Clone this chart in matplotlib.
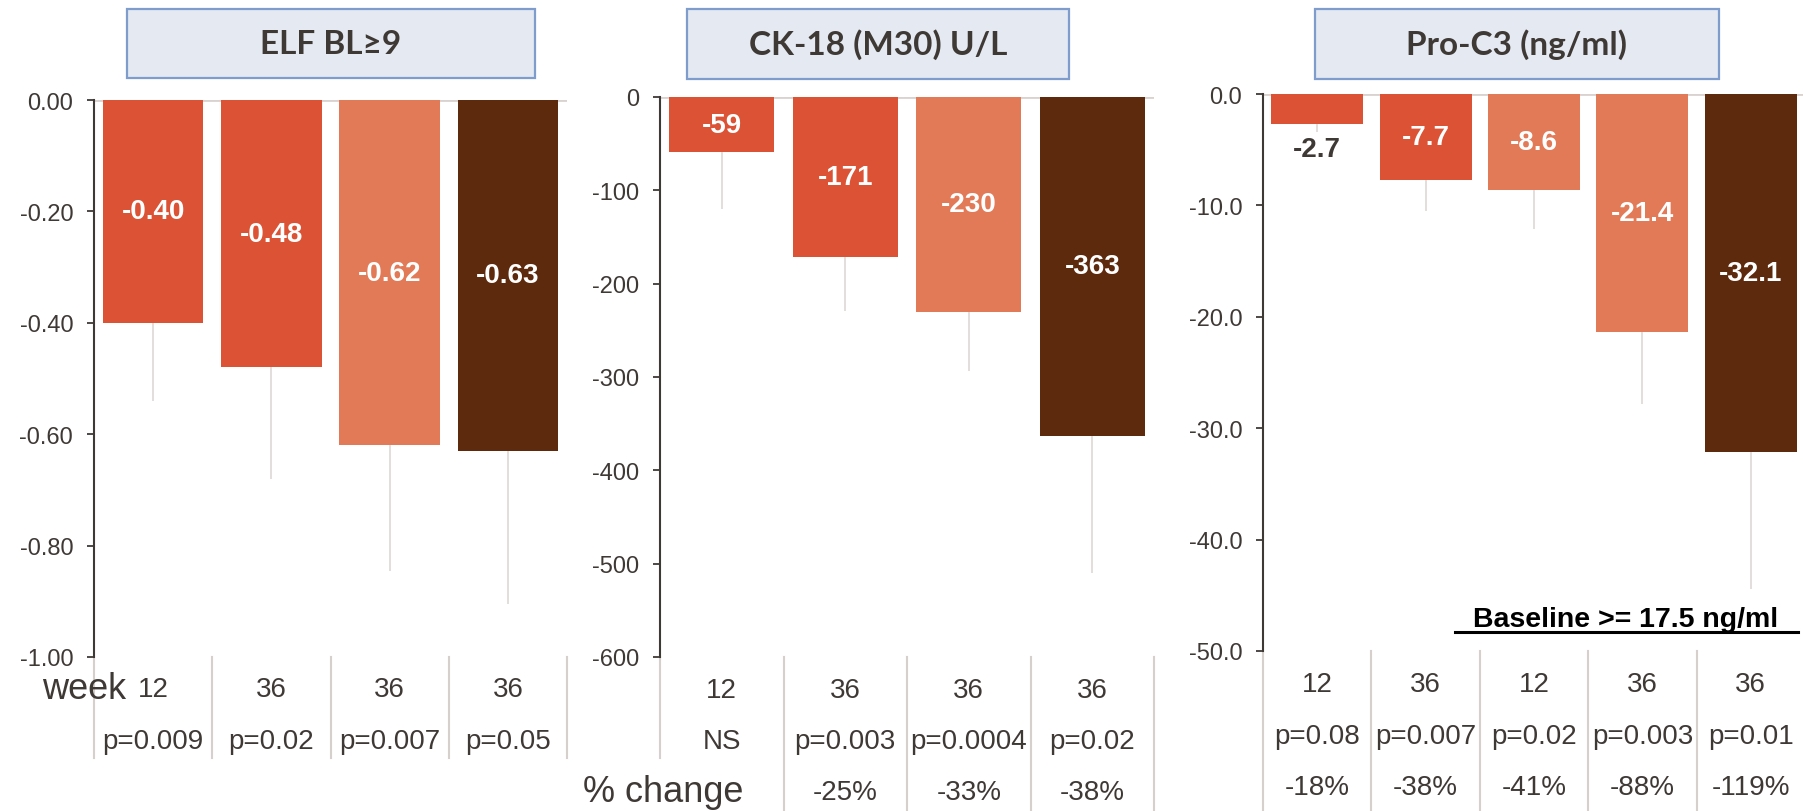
import matplotlib
matplotlib.use('Agg')
import matplotlib.pyplot as plt
import matplotlib.transforms as mtransforms
from matplotlib.patches import Rectangle
from matplotlib.lines import Line2D
from matplotlib.ticker import FormatStrFormatter

plt.rcParams.update({
    'font.family': ['Liberation Sans', 'DejaVu Sans'],
    'axes.linewidth': 1.5,
})

W, H = 1803, 812
TXT = '#3F3936'
SEP = '#D6CFCC'
RED = '#DB5234'
SALMON = '#E27A57'
BROWN = '#5E2A0E'

# -- ELF (baseline >= 9) --
elf_title = 'ELF BL≥9'
elf_vals = [-0.40, -0.48, -0.62, -0.63]
elf_err = [0.14, 0.20, 0.225, 0.275]
elf_weeks = ['12', '36', '36', '36']
elf_p = ['p=0.009', 'p=0.02', 'p=0.007', 'p=0.05']
elf_colors = [RED, RED, SALMON, BROWN]
elf_labels = ['-0.40', '-0.48', '-0.62', '-0.63']

# -- CK-18 (M30) --
ck_title = 'CK-18 (M30) U/L'
ck_vals = [-59, -171, -230, -363]
ck_err = [61, 58, 64, 147]
ck_weeks = ['12', '36', '36', '36']
ck_p = ['NS', 'p=0.003', 'p=0.0004', 'p=0.02']
ck_pct = ['', '-25%', '-33%', '-38%']
ck_colors = [RED, RED, SALMON, BROWN]
ck_labels = ['-59', '-171', '-230', '-363']

# -- Pro-C3 --
pro_title = 'Pro-C3 (ng/ml)'
pro_vals = [-2.7, -7.7, -8.6, -21.4, -32.1]
pro_err = [0.7, 2.8, 3.5, 6.4, 12.3]
pro_weeks = ['12', '36', '12', '36', '36']
pro_p = ['p=0.08', 'p=0.007', 'p=0.02', 'p=0.003', 'p=0.01']
pro_pct = ['-18%', '-38%', '-41%', '-88%', '-119%']
pro_colors = [RED, RED, SALMON, SALMON, BROWN]
pro_labels = ['-2.7', '-7.7', '-8.6', '-21.4', '-32.1']


def fx(px):
    return px / W


def fy(py):
    return 1 - py / H


fig = plt.figure(figsize=(W / 100, H / 100), dpi=100)


def panel(box, title, title_box, vals, err, colors, labels, ylim, yticks, fmt,
          rows, row_y, sep_bottom):
    x0, y0, x1, y1 = box
    ax = fig.add_axes([fx(x0), fy(y1), fx(x1 - x0), (y1 - y0) / H])
    n = len(vals)
    xs = list(range(n))
    ax.axhline(0, color='#D9D2CF', lw=2, zorder=1)
    ax.bar(xs, vals, width=0.85, color=colors, zorder=2)
    # lower error whiskers only
    ax.vlines(xs, vals, [v - e for v, e in zip(vals, err)],
              color='#E0DBD9', lw=1.3, zorder=1)
    ax.set_xlim(-0.5, n - 0.5)
    ax.set_ylim(*ylim)
    ax.set_yticks(yticks)
    ax.yaxis.set_major_formatter(FormatStrFormatter(fmt))
    ax.set_xticks([])
    for s in ['top', 'right', 'bottom']:
        ax.spines[s].set_visible(False)
    ax.spines['left'].set_color(TXT)
    ax.tick_params(axis='y', labelsize=17, labelcolor=TXT, color=TXT,
                   length=5, width=1.3, pad=10)

    # value labels: inside the bar, or under it when the bar is too short
    span = ylim[1] - ylim[0]
    for x, v, lab in zip(xs, vals, labels):
        if abs(v) / span < 0.08:
            ax.text(x, v - span * 0.045, lab, ha='center', va='center',
                    fontsize=20, fontweight='bold', color=TXT)
        else:
            ax.text(x, v / 2, lab, ha='center', va='center',
                    fontsize=20, fontweight='bold', color='white')

    # header box
    bx0, by0, bx1, by1 = title_box
    fig.patches.append(Rectangle((fx(bx0), fy(by1)), fx(bx1 - bx0), (by1 - by0) / H,
                                 transform=fig.transFigure, facecolor='#E4E9F2',
                                 edgecolor='#7F9DCC', lw=1.6))
    fig.text(fx((bx0 + bx1) / 2), fy((by0 + by1) / 2), title, ha='center',
             va='center', fontsize=24, fontweight='bold', color=TXT,
             family=['Lato', 'DejaVu Sans'])

    # table rows under the axis
    tr = mtransforms.blended_transform_factory(ax.transData, fig.transFigure)
    for row, py in zip(rows, row_y):
        for x, t in zip(xs, row):
            ax.text(x, fy(py), t, transform=tr, ha='center', va='center',
                    fontsize=20, color=TXT, clip_on=False)
    for i, bot in enumerate(sep_bottom):
        ax.add_line(Line2D([i - 0.5, i - 0.5], [fy(y1), fy(bot)], transform=tr,
                           color=SEP, lw=1.5, clip_on=False))
    return ax


panel((94, 101, 567, 658), elf_title, (127, 10, 535, 79),
      elf_vals, elf_err, elf_colors, elf_labels,
      (-1.0, 0.0), [0, -0.2, -0.4, -0.6, -0.8, -1.0], '%.2f',
      [elf_weeks, elf_p], [690, 742], [759] * 5)

panel((660, 98, 1154, 658), ck_title, (687, 10, 1069, 80),
      ck_vals, ck_err, ck_colors, ck_labels,
      (-600, 0), [0, -100, -200, -300, -400, -500, -600], '%d',
      [ck_weeks, ck_p, ck_pct], [691, 742, 793], [759] + [812] * 4)

panel((1263, 95, 1805, 652), pro_title, (1315, 10, 1719, 80),
      pro_vals, pro_err, pro_colors, pro_labels,
      (-50, 0), [0, -10, -20, -30, -40, -50], '%.1f',
      [pro_weeks, pro_p, pro_pct], [685, 737, 788], [812] * 5)

fig.text(fx(84), fy(690), 'week', ha='center', va='center', fontsize=26, color=TXT)
fig.text(fx(663), fy(793), '% change', ha='center', va='center', fontsize=26, color=TXT)

# baseline note with underline
fig.text(fx(1626), fy(620), 'Baseline >= 17.5 ng/ml', ha='center', va='center',
         fontsize=20.5, fontweight='bold', color='black')
fig.add_artist(Line2D([fx(1455), fx(1798)], [fy(633), fy(633)],
                      transform=fig.transFigure, color='black', lw=2.2))

fig.savefig('out.png', dpi=100)
